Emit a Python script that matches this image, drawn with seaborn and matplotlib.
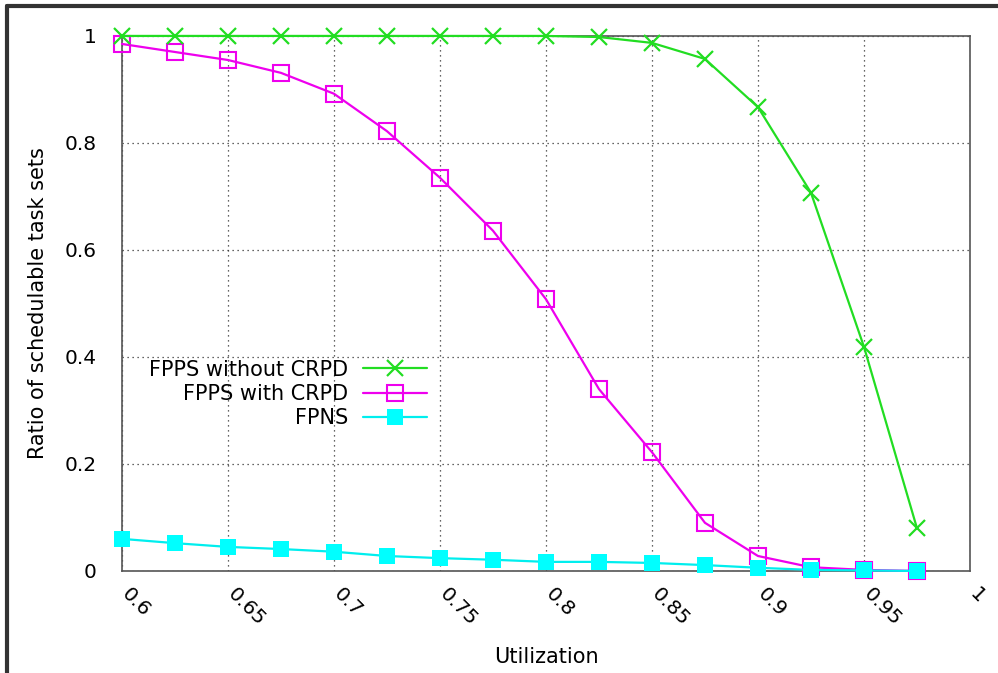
import numpy as np
import pandas as pd
import matplotlib
matplotlib.use("Agg")
import matplotlib.pyplot as plt
import matplotlib.transforms as mtrans
from matplotlib.lines import Line2D
import seaborn as sns

# utilization levels and schedulability ratios
utilization = [0.6, 0.625, 0.65, 0.675, 0.7, 0.725, 0.75, 0.775,
               0.8, 0.825, 0.85, 0.875, 0.9, 0.925, 0.95, 0.975]
fpps_no_crpd = [1.0, 1.0, 1.0, 1.0, 1.0, 1.0, 1.0, 1.0,
                1.0, 0.998, 0.987, 0.957, 0.867, 0.707, 0.419, 0.08]
fpps_crpd = [0.985, 0.970, 0.955, 0.931, 0.892, 0.822, 0.735, 0.636,
             0.508, 0.340, 0.222, 0.090, 0.028, 0.007, 0.002, 0.0]
fpns = [0.060, 0.052, 0.045, 0.041, 0.036, 0.028, 0.024, 0.021,
        0.017, 0.017, 0.015, 0.011, 0.006, 0.002, 0.001, 0.0]

xticks = [0.6, 0.65, 0.7, 0.75, 0.8, 0.85, 0.9, 0.95, 1.0]
xticklabels = ["0.6", "0.65", "0.7", "0.75", "0.8", "0.85", "0.9", "0.95", "1"]
yticks = [0, 0.2, 0.4, 0.6, 0.8, 1.0]
yticklabels = ["0", "0.2", "0.4", "0.6", "0.8", "1"]

sns.set_style("white")
plt.rcParams['font.family'] = ['DejaVu Sans']
plt.rcParams['text.color'] = 'black'
plt.rcParams['axes.labelcolor'] = 'black'
FS = 15
TS = 14.5

fig = plt.figure(figsize=(9.98, 6.73), dpi=100)
ax = fig.add_axes([0.1222, 0.1516, 0.8497, 0.795])

green, magenta, cyan = "#22dd22", "#ee00ee", "#00eeee"
sns.lineplot(x=utilization, y=fpps_no_crpd, ax=ax, color=green, lw=1.6,
             marker="x", markersize=11, mew=1.6, mec=green,
             label="FPPS without CRPD", zorder=4, clip_on=False)
sns.lineplot(x=utilization, y=fpps_crpd, ax=ax, color=magenta, lw=1.6,
             marker="s", markersize=12, mew=1.5, mfc="none", mec=magenta,
             label="FPPS with CRPD", zorder=3, clip_on=False)
sns.lineplot(x=utilization, y=fpns, ax=ax, color=cyan, lw=1.6,
             marker="s", markersize=11, mew=0, mfc="#00ffff",
             label="FPNS", zorder=5, clip_on=False)

ax.set_xlim(0.6, 1.0)
ax.set_ylim(0, 1.0)
ax.set_xticks(xticks)
ax.set_xticklabels([])
# rotated x tick labels, nudged right of the tick like gnuplot does
shift = mtrans.ScaledTranslation(9 / 100, -13 / 100, fig.dpi_scale_trans)
for xv, txt in zip(xticks, xticklabels):
    ax.text(xv, 0, txt, transform=ax.get_xaxis_transform() + shift,
            rotation=-45, rotation_mode="anchor", ha="left", va="top",
            fontsize=TS, color="black")
ax.set_yticks(yticks)
ax.set_yticklabels(yticklabels)
ax.tick_params(axis="x", direction="in", length=9, width=1, colors="#222222")
ax.tick_params(axis="y", direction="out", length=10, width=1, colors="#222222",
               labelsize=TS, pad=8, labelcolor="black")
ax.grid(True, color="#333333", linestyle=(0, (1, 3)), linewidth=0.9)

for s in ax.spines.values():
    s.set_color("#555555")
    s.set_linewidth(1.2)

ax.set_xlabel("Utilization", fontsize=FS)
ax.xaxis.set_label_coords(0.5, -0.142)
ax.set_ylabel("Ratio of schedulable task sets", fontsize=FS, labelpad=12)

leg = ax.legend(loc="center right", bbox_to_anchor=(0.36, 0.331),
                frameon=False, markerfirst=False, fontsize=FS,
                handlelength=3.1, handletextpad=0.7, labelspacing=0.2,
                borderpad=0, borderaxespad=0)
for t in leg.get_texts():
    t.set_color("black")

# dark frame around the screenshot
fig.add_artist(Line2D([0.007, 0.007], [0, 0.991], transform=fig.transFigure,
                      color="#333333", lw=3))
fig.add_artist(Line2D([0.007, 1.0], [0.991, 0.991], transform=fig.transFigure,
                      color="#333333", lw=3))

fig.savefig("out.png", dpi=100)
